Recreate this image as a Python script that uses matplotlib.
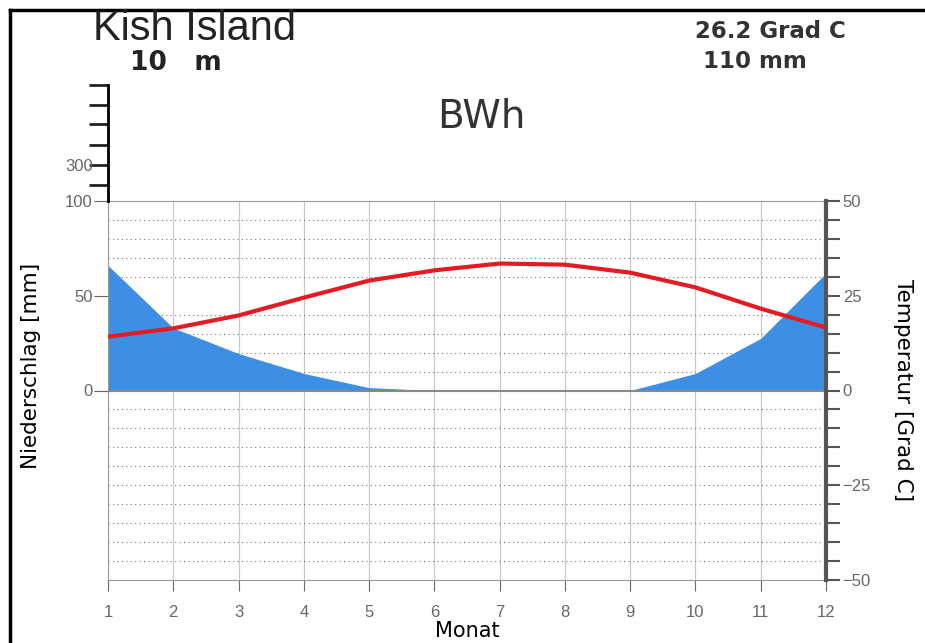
import numpy as np
import matplotlib
matplotlib.use("Agg")
import matplotlib.pyplot as plt

# monthly climate data, Kish Island
months = np.arange(1, 13)
precip = [66, 33, 19.5, 9, 1.5, 0, 0, 0, 0, 9, 27.5, 62]  # mm
temp = [14.2, 16.4, 19.8, 24.5, 29.0, 31.7, 33.5, 33.2, 31.1, 27.2, 21.6, 16.6]  # Grad C

station = "Kish Island"
height = "10   m"
mean_temp = "26.2 Grad C"
sum_precip = "110 mm"
climate = "BWh"

plt.rcParams['font.family'] = ['Liberation Sans', 'DejaVu Sans']
grey = '#666666'

fig = plt.figure(figsize=(9.25, 6.43), dpi=100)
ax = fig.add_axes([108/925, 1-580/643, (826-108)/925, (580-201)/643])
ax2 = ax.twinx()

# precipitation (left scale, 2 mm = 1 Grad C)
ax.fill_between(months, 0, precip, color='#3d8fe6', lw=0, zorder=2)
ax.axhline(0, color='#888888', lw=1.5, zorder=3)
ax.set_xlim(1, 12)
ax.set_ylim(-100, 100)
ax.set_yticks([0, 50, 100])
ax.set_yticklabels(['0', '50', '100'])
ax.set_yticks(np.arange(-90, 100, 10), minor=True)
ax.tick_params(axis='y', which='minor', length=0)
ax.tick_params(axis='y', which='major', length=10, color=grey, labelcolor=grey, labelsize=12, pad=1)
ax.grid(axis='y', which='minor', color='#777777', ls=(0, (1, 3)), lw=0.8)
ax.set_xticks(months)
ax.tick_params(axis='x', length=8, color=grey, labelcolor=grey, labelsize=12, pad=10)
ax.grid(axis='x', color='#c8c8c8', lw=0.9)
ax.set_axisbelow(True)
ax.set_xlabel('Monat', fontsize=15, family='DejaVu Sans')
ax.xaxis.set_label_coords(0.501, -0.108)
ax.set_ylabel('Niederschlag [mm]', fontsize=15.5, family='DejaVu Sans')
ax.yaxis.set_label_coords(-0.093, 0.565)
for s in ['left', 'bottom', 'top']:
    ax.spines[s].set_color('#999999')
ax.spines['right'].set_visible(False)

# temperature (right scale)
ax2.plot(months, temp, color='#e31b23', lw=3, zorder=5)
ax2.set_ylim(-50, 50)
ax2.set_yticks([-50, -25, 0, 25, 50])
ax2.set_yticklabels(['\u221250', '\u221225', '0', '25', '50'])
ax2.set_yticks(np.arange(-45, 50, 5), minor=True)
ax2.tick_params(axis='y', which='both', length=10, width=1.5, color='#555555',
                labelcolor=grey, labelsize=12, pad=2)
ax2.spines['right'].set_color('#555555')
ax2.spines['right'].set_linewidth(3)
for s in ['left', 'bottom', 'top']:
    ax2.spines[s].set_visible(False)
ax2.set_ylabel('Temperatur [Grad C]', fontsize=15.5, rotation=270, family='DejaVu Sans')
ax2.yaxis.set_label_coords(1.121, 0.5)

# compressed scale above 100 mm
axe = fig.add_axes([108/925, 1-201/643, 0.001, (201-85)/643])
axe.set_ylim(0, 1)
axe.set_xticks([])
axe.set_yticks([0.14, 0.31, 0.48, 0.66, 0.83, 1.0])
axe.set_yticklabels(['', '300', '', '', '', ''])
axe.tick_params(axis='y', length=14, width=2, color='#222222', labelcolor=grey, labelsize=12, pad=-3)
for s in ['right', 'bottom', 'top']:
    axe.spines[s].set_visible(False)
axe.spines['left'].set_linewidth(2)
axe.patch.set_alpha(0)

# titles
fig.text(93/925, 1-29/643, station, fontsize=30, va='center', ha='left', color='#222222')
fig.text(130/925, 1-63/643, height, fontsize=19, fontweight='bold', va='center', ha='left',
         color='#222222', family='DejaVu Sans')
fig.text(695/925, 1-32/643, mean_temp, fontsize=16.5, fontweight='bold', va='center', ha='left',
         color='#333333', family='DejaVu Sans')
fig.text(703/925, 1-62/643, sum_precip, fontsize=16.5, fontweight='bold', va='center', ha='left',
         color='#333333', family='DejaVu Sans')
fig.text(481/925, 1-117/643, climate, fontsize=28, va='center', ha='center', color='#333333',
         family='DejaVu Sans')

# frame lines
fig.add_artist(plt.Line2D([10/925, 1], [1-10/643, 1-10/643], color='black', lw=2.5))
fig.add_artist(plt.Line2D([10/925, 10/925], [0, 1-10/643], color='black', lw=2.5))

fig.savefig('out.png', dpi=100)
